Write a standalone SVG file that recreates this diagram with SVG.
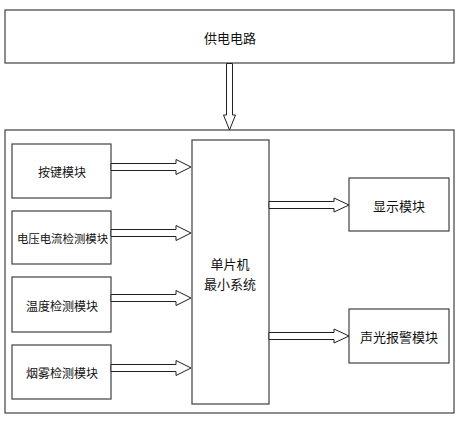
<svg xmlns="http://www.w3.org/2000/svg" width="468" height="422" viewBox="0 0 468 422">
<style>
.box{fill:#fff;stroke:#404040;stroke-width:1.2}
.arr{fill:#fff;stroke:#202020;stroke-width:1}
text{font-family:"Noto Sans CJK SC","Liberation Sans",sans-serif;fill:#111;text-anchor:middle;dominant-baseline:central}
.s{font-size:12px}
.xs{font-size:11.4px}
.m{font-size:13px}
</style>
<rect width="468" height="422" fill="#fff"/>
<g id="power"><rect class="box" x="5" y="10" width="449" height="53"/><text class="m" x="230" y="37">供电电路</text></g>
<g id="outer"><rect class="box" x="5" y="130" width="449" height="283"/></g>
<g id="key"><rect class="box" x="12" y="144" width="99" height="54"/><text class="s" x="62" y="171">按键模块</text></g>
<g id="vi"><rect class="box" x="12" y="211" width="99" height="53"/><text class="xs" x="62.5" y="238">电压电流检测模块</text></g>
<g id="temp"><rect class="box" x="12" y="277" width="99" height="55"/><text class="s" x="62" y="305">温度检测模块</text></g>
<g id="smoke"><rect class="box" x="12" y="345" width="99" height="54"/><text class="s" x="62" y="372">烟雾检测模块</text></g>
<g id="mcu"><rect class="box" x="192" y="140" width="77" height="264"/><text class="m" x="230" y="263">单片机</text><text class="m" x="230" y="283">最小系统</text></g>
<g id="display"><rect class="box" x="349" y="178" width="100" height="53"/><text class="m" x="399" y="205">显示模块</text></g>
<g id="alarm"><rect class="box" x="349" y="309" width="100" height="54"/><text class="m" x="399" y="336">声光报警模块</text></g>
<g id="connectors">
<path class="arr" d="M226.5,63.5 V115 H223.5 L229.5,130 L235.5,115 H232.5 V63.5 Z"/>
<path class="arr" d="M111,163.5 H176 V159.5 L191,167 L176,174.5 V170.5 H111 Z"/>
<path class="arr" d="M111,229.5 H176 V225.5 L191,233 L176,240.5 V236.5 H111 Z"/>
<path class="arr" d="M111,294.5 H176 V290.5 L191,298 L176,305.5 V301.5 H111 Z"/>
<path class="arr" d="M111,364.5 H176 V360.5 L191,368 L176,375.5 V371.5 H111 Z"/>
<path class="arr" d="M269,201.5 H334 V198 L349,205 L334,212 V208.5 H269 Z"/>
<path class="arr" d="M269,332.5 H334 V329 L349,336 L334,343 V339.5 H269 Z"/>
</g>
</svg>
